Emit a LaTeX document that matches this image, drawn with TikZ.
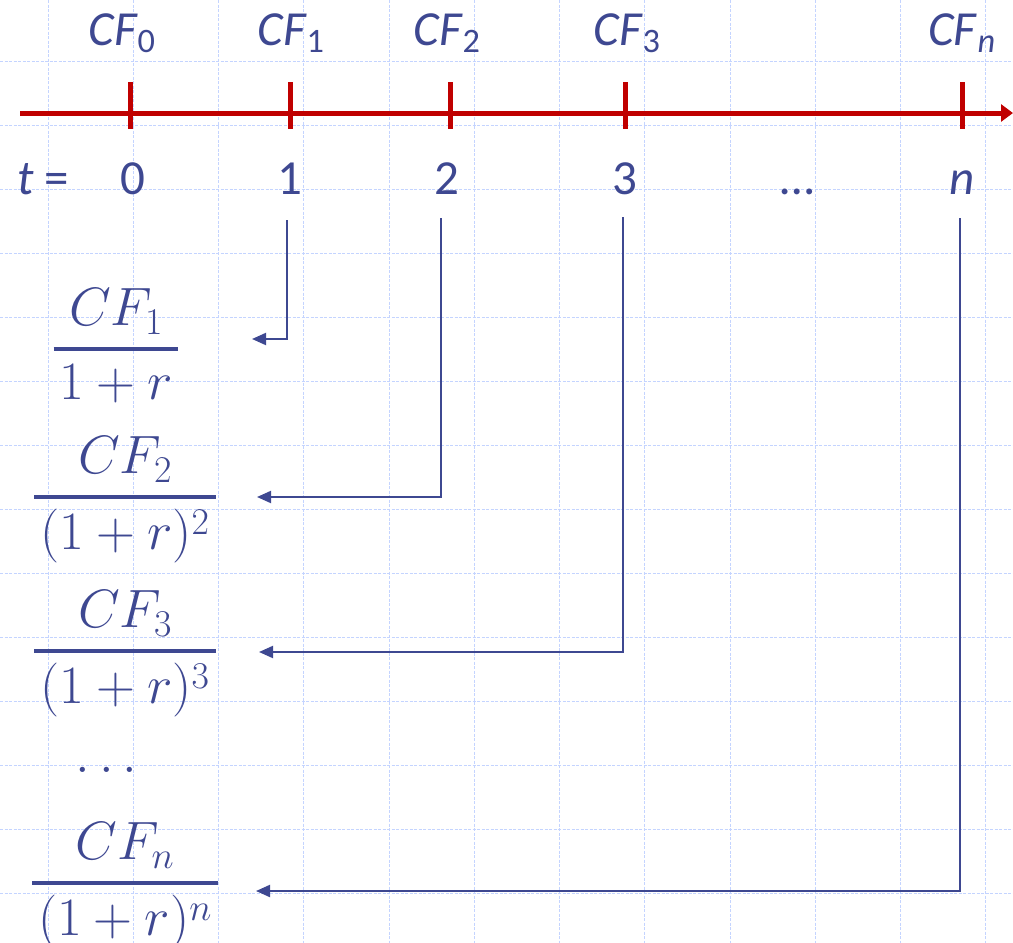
\RequirePackage{fix-cm}
\documentclass[tikz,border=0pt]{standalone}
\usepackage{amsmath}
\usepackage[no-math]{fontspec}
\setmainfont{Carlito}
\usetikzlibrary{arrows.meta}
\definecolor{axred}{RGB}{192,0,0}
\definecolor{txtblue}{RGB}{62,72,145}
\definecolor{gridblue}{RGB}{196,212,255}
\newcommand{\myfrac}[2]{\genfrac{}{}{3.5pt}{0}{#1}{\mkern2mu#2\mkern2mu}}
\tikzset{
  gridl/.style={draw=gridblue, line width=1pt, dash pattern=on 3pt off 1.5pt},
  axis/.style={draw=axred, line width=5pt},
  tick/.style={draw=axred, line width=5pt},
  lbl/.style={text=txtblue, inner sep=0pt, anchor=base, font=\fontsize{49}{58}\selectfont},
  frac/.style={text=txtblue, inner sep=0pt, anchor=base, font=\fontsize{54}{64}\selectfont},
  arr/.style={draw=txtblue, line width=2pt, -{Triangle[length=14pt,width=12pt]}},
}
\begin{document}
\begin{tikzpicture}[x=1pt,y=-1pt]
\useasboundingbox (0,0) rectangle (1013,943);
% grid
\foreach \k in {0,...,11} \draw[gridl] ({48+85.27*\k},0) -- ++(0,943);
\foreach \k in {0,...,13} \draw[gridl] (0,{61+64*\k}) -- ++(1013,0);
% axis
\coordinate (ax0) at (20,113);
\coordinate (ax1) at (1013,113);
\draw[axis, -{Triangle[length=12pt,width=17pt]}] (ax0) -- (ax1);
\foreach \x/\n in {130/0,290/1,450/2,625/3,962/n}{
  \coordinate (tk\n a) at (\x,82);
  \coordinate (tk\n b) at (\x,129);
  \draw[tick] (tk\n a) -- (tk\n b);
}
% CF labels
\node[lbl] (cf0) at (122,45) {\textit{CF}\textsubscript{0}};
\node[lbl] (cf1) at (291,45) {\textit{CF}\textsubscript{1}};
\node[lbl] (cf2) at (447,45) {\textit{CF}\textsubscript{2}};
\node[lbl] (cf3) at (627,45) {\textit{CF}\textsubscript{3}};
\node[lbl] (cfn) at (962,45) {\textit{CF}\textsubscript{\textit{n}}};
% t labels
\node[lbl] (teq) at (43,194) {\textit{t} =};
\node[lbl] (t0) at (133,194) {0};
\node[lbl] (t1) at (290,194) {1};
\node[lbl] (t2) at (447,194) {2};
\node[lbl] (t3) at (625,194) {3};
\node[lbl] (tdots) at (797,194) {…};
\node[lbl] (tn) at (962,194) {\textit{n}};
% fractions (baseline = bar + axis height)
\node[frac] (f1) at (116,362.5) {$\myfrac{CF_1}{1+r}$};
\node[frac] (f2) at (125,510.5) {$\myfrac{CF_2}{(1+r)^2}$};
\node[frac] (f3) at (125,664.5) {$\myfrac{CF_3}{(1+r)^3}$};
\node[frac] (fd) at (111,772) {$\dots$};
\node[frac] (fn) at (125,896.5) {$\myfrac{CF_n}{(1+r)^n}$};
% arrows
\coordinate (s1) at (287,220); \coordinate (e1) at (252,339);
\coordinate (s2) at (441,218); \coordinate (e2) at (257,497);
\coordinate (s3) at (623,217); \coordinate (e3) at (259,652);
\coordinate (sn) at (960,218); \coordinate (en) at (256,891);
\draw[arr] (s1) |- (e1);
\draw[arr] (s2) |- (e2);
\draw[arr] (s3) |- (e3);
\draw[arr] (sn) |- (en);
\end{tikzpicture}
\end{document}
